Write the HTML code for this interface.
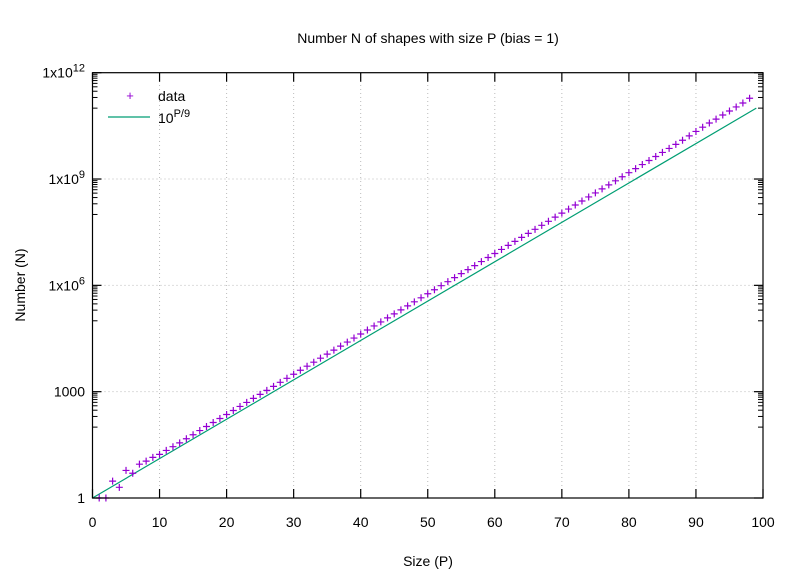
<!DOCTYPE html>
<html><head><meta charset="utf-8"><style>
body{margin:0;background:#fff}
svg{display:block;font-family:"Liberation Sans",sans-serif;}
</style></head><body>
<svg id="chart" width="788" height="576" viewBox="0 0 788 576">
<text x="428" y="43" text-anchor="middle" font-size="14">Number N of shapes with size P (bias = 1)</text>
<text x="428" y="566" text-anchor="middle" font-size="14">Size (P)</text>
<text transform="translate(25,285) rotate(-90)" text-anchor="middle" font-size="14">Number (N)</text>
<g id="grid"></g><g id="ticks"></g><g id="series"></g>
<rect x="92.5" y="72.7" width="670.5" height="425.3" fill="none" stroke="#000" stroke-width="1.2"/>
<g>
<text x="130" y="100" text-anchor="middle" font-size="13" fill="#9400d3">+</text>
<text x="158" y="101" font-size="14">data</text>
<line x1="108" y1="117" x2="150" y2="117" stroke="#009e73" stroke-width="1.2"/>
<text x="158" y="123" font-size="14">10<tspan dy="-6" font-size="11">P/9</tspan></text>
</g>
</svg>
<script>
const sizes=[];for(let p=1;p<=99;p++)sizes.push(p);
const counts=[1,1,3,2,6,5,9,11,14,
17,22,28,36,47,61,80,104,135,175,
227,295,383,497,646,839,1090,1414,1837,2386,
3100,4026,5230,6790,8820,11450,14880,19310,25080,32580,
42400,55070,71530,92860,120600,156700,203500,264200,343000,445600,
5.8e5,7.53e5,9.78e5,1.27e6,1.65e6,2.14e6,2.78e6,3.61e6,4.69e6,6.1e6,
7.93e6,1.03e7,1.34e7,1.74e7,2.26e7,2.93e7,3.81e7,4.94e7,6.42e7,8.4e7,
1.09e8,1.42e8,1.85e8,2.4e8,3.12e8,4.05e8,5.27e8,6.85e8,8.9e8,1.16e9,
1.51e9,1.97e9,2.56e9,3.33e9,4.33e9,5.63e9,7.3e9,9.5e9,1.24e10,1.65e10,
2.2e10,2.9e10,3.8e10,4.9e10,6.4e10,8.3e10,1.08e11,1.4e11,1.9e11];
const xTicks=[0,10,20,30,40,50,60,70,80,90,100];
const yTickExps=[0,3,6,9,12];
const yTickLabels=["1","1000","1x10<6>","1x10<9>","1x10<12>"];
const X0=92.5,X1=763,Y0=498,Y1=72.7;
const xs=v=>X0+(v-0)/(100-0)*(X1-X0);
const ys=v=>Y0-Math.log10(v)/12*(Y0-Y1);
const NS="http://www.w3.org/2000/svg";
function mk(tag,attrs,parent){const e=document.createElementNS(NS,tag);for(const k in attrs)e.setAttribute(k,attrs[k]);parent.appendChild(e);return e;}
const grid=document.getElementById('grid'),ticks=document.getElementById('ticks'),series=document.getElementById('series');
xTicks.forEach(t=>{const x=xs(t);
 if(t>0&&t<100){const g=mk('line',{x1:x,y1:Y0,x2:x,y2:Y1,stroke:'#bbb','stroke-dasharray':'1,3','stroke-width':1},grid);
 
 }
 const a=mk('line',{x1:x,y1:Y0,x2:x,y2:Y0-9,stroke:'#000','stroke-width':1.2},ticks);
 
 
 const b=mk('line',{x1:x,y1:Y1,x2:x,y2:Y1+9,stroke:'#000','stroke-width':1.2},ticks);
 
 
 const l=mk('text',{x:x,y:527,'text-anchor':'middle','font-size':14},ticks);l.textContent=t;
 
 
});
yTickExps.forEach((e,i)=>{const y=ys(Math.pow(10,e));
 if(e>0&&e<12){const g=mk('line',{x1:X0,y1:y,x2:X1,y2:y,stroke:'#bbb','stroke-dasharray':'1,3','stroke-width':1},grid);
 
 }
 [[X0,X0+9],[X1,X1-9]].forEach(p=>{const a=mk('line',{x1:p[0],y1:y,x2:p[1],y2:y,stroke:'#000','stroke-width':1.2},ticks);
 
 });
 const lab=yTickLabels[i];const m=lab.match(/^(.*)<(.*)>$/);
 const l=mk('text',{x:85,y:y+5,'text-anchor':'end','font-size':14},ticks);
 if(m){l.textContent=m[1];const ts=mk('tspan',{dy:-6,'font-size':11},l);ts.textContent=m[2];}else l.textContent=lab;
 
 
 if(e<12){for(let k=1;k<=9;k++){const yy=ys(k*Math.pow(10,e+2));
  [[X0,X0+5],[X1,X1-5]].forEach(p=>{const a=mk('line',{x1:p[0],y1:yy,x2:p[1],y2:yy,stroke:'#000','stroke-width':1},ticks);
  
  });}}
});
const line=mk('line',{x1:xs(0),y1:ys(1),x2:xs(99),y2:ys(Math.pow(10,99/9)),stroke:'#009e73','stroke-width':1.2},series);


sizes.forEach((p,i)=>{const x=xs(p),y=ys(counts[i]);
 const pt=mk('path',{d:`M${x-3.5},${y}H${x+3.5}M${x},${y-3.5}V${y+3.5}`,stroke:'#9400d3','stroke-width':1.2,fill:'none'},series);
 
 
});
</script>
</body></html>
